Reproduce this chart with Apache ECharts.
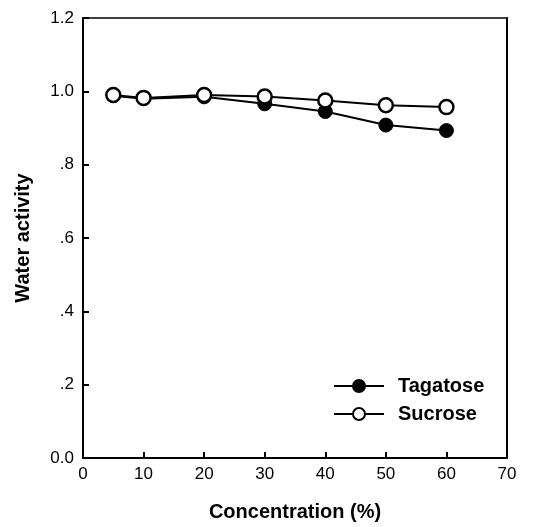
<!DOCTYPE html>
<html>
<head>
<meta charset="utf-8">
<script src="https://cdn.jsdelivr.net/npm/echarts@6/dist/echarts.min.js"></script>
<style>
  html, body { margin: 0; padding: 0; background: #fff; }
  #chart { width: 535px; height: 527px; }
</style>
</head>
<body>
<div id="chart"></div>
<script>
// Sugar concentration (%) and measured water activity
const concentration = [5, 10, 20, 30, 40, 50, 60];
const tagatose = [0.988, 0.980, 0.985, 0.966, 0.945, 0.908, 0.893];
const sucrose  = [0.990, 0.982, 0.990, 0.986, 0.975, 0.962, 0.957];
const yTickLabels = { '0': '0.0', '0.2': '.2', '0.4': '.4', '0.6': '.6', '0.8': '.8', '1': '1.0', '1.2': '1.2' };

const font = 'Liberation Sans, Arial, sans-serif';
const chart = echarts.init(document.getElementById('chart'));

const pairs = (ys) => concentration.map((x, i) => [x, ys[i]]);

chart.setOption({
  animation: false,
  grid: { left: 83, right: 28, top: 18, bottom: 68, show: false },
  xAxis: [{
    type: 'value', min: 0, max: 70, interval: 10,
    name: 'Concentration (%)', nameLocation: 'middle', nameGap: 44,
    nameTextStyle: { fontFamily: font, fontWeight: 'bold', fontSize: 20, color: '#000' },
    axisLine: { lineStyle: { color: '#000', width: 2 } },
    axisTick: { inside: true, length: 6, lineStyle: { color: '#000', width: 2 } },
    axisLabel: { fontFamily: font, fontSize: 17, color: '#000', margin: 8 },
    splitLine: { show: false }
  }, {
    type: 'value', min: 0, max: 70, position: 'top',
    axisLine: { show: true, onZero: false, lineStyle: { color: '#000', width: 1.5 } },
    axisTick: { show: false }, axisLabel: { show: false }, splitLine: { show: false }
  }],
  yAxis: [{
    type: 'value', min: 0, max: 1.2, interval: 0.2,
    name: 'Water activity', nameLocation: 'middle', nameGap: 50, nameRotate: 90,
    nameTextStyle: { fontFamily: font, fontWeight: 'bold', fontSize: 20, color: '#000' },
    axisLine: { show: true, lineStyle: { color: '#000', width: 2 } },
    axisTick: { show: true, inside: true, length: 6, lineStyle: { color: '#000', width: 2 } },
    axisLabel: {
      fontFamily: font, fontSize: 17, color: '#000', margin: 9,
      formatter: (v) => yTickLabels[String(Math.round(v * 10) / 10)] || ''
    },
    splitLine: { show: false }
  }, {
    type: 'value', min: 0, max: 1.2, position: 'right',
    axisLine: { show: true, onZero: false, lineStyle: { color: '#000', width: 2 } },
    axisTick: { show: false }, axisLabel: { show: false }, splitLine: { show: false }
  }],
  legend: {
    orient: 'vertical', left: 328, top: 371, itemGap: 8,
    itemWidth: 50, itemHeight: 15,
    textStyle: { fontFamily: font, fontWeight: 'bold', fontSize: 20, color: '#000', padding: [0, 0, 0, 9] },
    data: ['Tagatose', 'Sucrose']
  },
  series: [{
    name: 'Tagatose', type: 'line', data: pairs(tagatose),
    symbol: 'circle', symbolSize: 14, z: 2,
    lineStyle: { color: '#000', width: 2 },
    itemStyle: { color: '#000', borderColor: '#000', borderWidth: 1 }
  }, {
    name: 'Sucrose', type: 'line', data: pairs(sucrose),
    symbol: 'circle', symbolSize: 14, z: 3,
    lineStyle: { color: '#000', width: 2 },
    itemStyle: { color: '#fff', borderColor: '#000', borderWidth: 2.5 }
  }]
});
</script>
</body>
</html>
